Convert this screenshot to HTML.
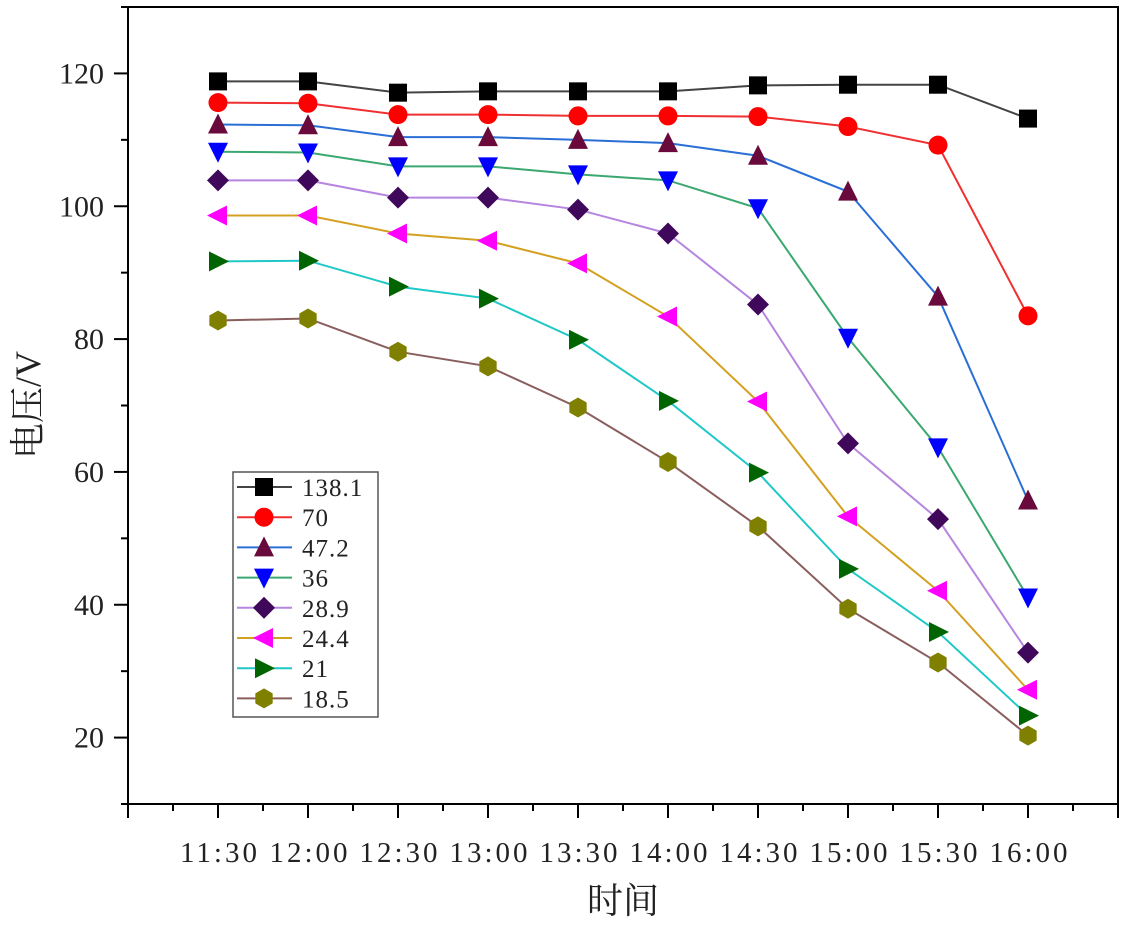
<!DOCTYPE html>
<html><head><meta charset="utf-8"><style>
html,body{margin:0;padding:0;background:#fff;}
svg text{font-family:"Liberation Serif","Noto Serif CJK SC",serif;fill:#222;}
</style></head><body>
<svg id="chart" width="1127" height="921" xmlns="http://www.w3.org/2000/svg"></svg>
<script>
const categories=["11:30","12:00","12:30","13:00","13:30","14:00","14:30","15:00","15:30","16:00"];
const seriesNames=["138.1","70","47.2","36","28.9","24.4","21","18.5"];
const s1381=[118.8,118.8,117.1,117.3,117.3,117.3,118.2,118.3,118.3,113.2];
const s70=[115.6,115.5,113.8,113.8,113.6,113.6,113.5,112.0,109.2,83.5];
const s472=[112.3,112.2,110.4,110.4,110.0,109.5,107.6,102.2,86.4,55.7];
const s36=[108.2,108.1,106.0,106.0,104.8,103.9,99.7,80.2,63.7,41.1];
const s289=[103.9,103.9,101.3,101.3,99.5,95.9,85.2,64.3,52.9,32.8];
const s244=[98.6,98.6,95.9,94.8,91.4,83.4,70.6,53.3,42.1,27.2];
const s21=[91.7,91.8,87.9,86.1,79.9,70.7,59.9,45.4,35.9,23.3];
const s185=[82.8,83.1,78.1,75.9,69.7,61.5,51.8,39.4,31.3,20.3];
const yTicks=[20,40,60,80,100,120];
const allSeries=[s1381,s70,s472,s36,s289,s244,s21,s185];
const lineColors=["#444","#f03030","#2a6fd6","#3aa870","#b585e0","#d4a020","#20c8c8","#8b5e5e"];
const markColors=["#000","#ff0000","#6a0a3c","#0000ff","#40085a","#ff00ff","#006400","#808000"];
const shapes=["square","circle","up","down","diamond","left","right","hex"];

const NS="http://www.w3.org/2000/svg";
const svg=document.getElementById('chart');
const L=128,R=1118,T=7,B=804;
const xS=i=>L+(i+1)*(R-L)/11;
const yS=v=>B-(v-10)*(B-T)/120;
function mk(tag,attrs,parent){const e=document.createElementNS(NS,tag);for(const k in attrs)e.setAttribute(k,attrs[k]);(parent||svg).appendChild(e);return e;}
function marker(shape,cx,cy,col,g){const r=9;let e;
 if(shape==="square")e=mk('rect',{x:cx-r,y:cy-r,width:2*r,height:2*r,fill:col},g);
 else if(shape==="circle")e=mk('circle',{cx:cx,cy:cy,r:r+0.5,fill:col},g);
 else{let p;
  if(shape==="up")p=[[cx,cy-r-2],[cx+r+1,cy+r],[cx-r-1,cy+r]];
  else if(shape==="down")p=[[cx-r-1,cy-r],[cx+r+1,cy-r],[cx,cy+r+2]];
  else if(shape==="diamond")p=[[cx,cy-r-2],[cx+r+2,cy],[cx,cy+r+2],[cx-r-2,cy]];
  else if(shape==="left")p=[[cx-r-2,cy],[cx+r,cy-r-1],[cx+r,cy+r+1]];
  else if(shape==="right")p=[[cx+r+2,cy],[cx-r,cy-r-1],[cx-r,cy+r+1]];
  else{p=[];for(let k=0;k<6;k++){const a=Math.PI/6+k*Math.PI/3;p.push([cx+(r+1)*Math.cos(a),cy+(r+1)*Math.sin(a)]);}}
  e=mk('polygon',{points:p.map(q=>q.join(',')).join(' '),fill:col},g);}
 return e;}

const frame=mk('rect',{x:L,y:T,width:R-L,height:B-T,fill:'none',stroke:'#000','stroke-width':2});


const yAxis=mk('g',{});


for(let v=10;v<=130;v+=10){const y=yS(v);const major=yTicks.includes(v);
 mk('line',{x1:L-(major?14:7),x2:L,y1:y,y2:y,stroke:'#000','stroke-width':2},yAxis);}
yTicks.forEach(v=>{const t=mk('text',{x:L-24,y:yS(v)+10,'text-anchor':'end','font-size':30},yAxis);t.textContent=v;
 
 });
const xAxis=mk('g',{});


for(let k=0;k<=22;k++){const x=L+k*(R-L)/22;const major=k%2===0;
 mk('line',{x1:x,x2:x,y1:B,y2:B+(major?14:7),stroke:'#000','stroke-width':2},xAxis);}
categories.forEach((c,i)=>{const t=mk('text',{x:xS(i)+2,y:862,'text-anchor':'middle','font-size':29,'letter-spacing':3},xAxis);t.textContent=c;
 
 });
const xt=mk('text',{x:623,y:913,'text-anchor':'middle','font-size':36});xt.textContent="时间";


const yt=mk('text',{x:0,y:0,'text-anchor':'middle','font-size':36,transform:'translate(40,405) rotate(-90)'});yt.textContent="电压/V";


allSeries.forEach((s,si)=>{const g=mk('g',{});
 
 
 mk('polyline',{points:s.map((v,i)=>xS(i)+','+yS(v)).join(' '),fill:'none',stroke:lineColors[si],'stroke-width':2},g);
 s.forEach((v,i)=>{const m=marker(shapes[si],xS(i),yS(v),markColors[si],g);
  
  });});
const lg=mk('g',{});


mk('rect',{x:233,y:472,width:145,height:245,fill:'#fff',stroke:'#555','stroke-width':1.5},lg);
seriesNames.forEach((n,si)=>{const y=487+si*30.2;const e=mk('g',{},lg);
 
 
 mk('line',{x1:237,x2:292,y1:y,y2:y,stroke:lineColors[si],'stroke-width':2},e);
 marker(shapes[si],264,y,markColors[si],e);
 const t=mk('text',{x:302,y:y+9,'font-size':25,'letter-spacing':1},e);t.textContent=n;});
</script>
</body></html>
